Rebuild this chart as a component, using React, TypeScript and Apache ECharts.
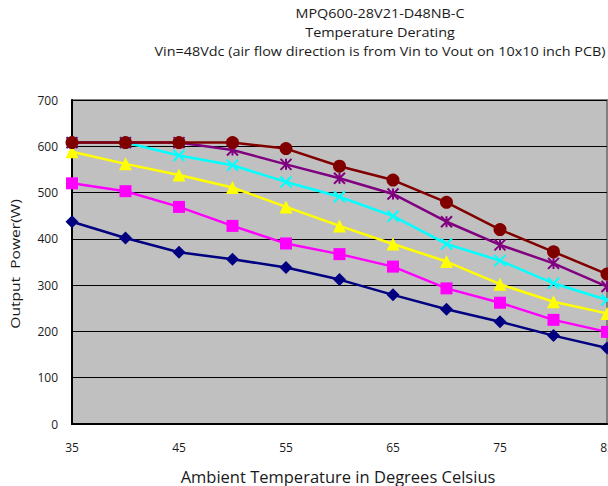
import React, { useEffect, useRef } from "react";
import * as echarts from "echarts";

const categories = ["35", "40", "45", "50", "55", "60", "65", "70", "75", "80", "85"];
const navyValues = [437, 402, 371, 356, 338, 312, 279, 248, 221, 191, 164];
const magentaValues = [520, 503, 469, 428, 390, 367, 340, 293, 262, 225, 199];
const yellowValues = [588, 562, 538, 511, 469, 428, 389, 351, 302, 264, 239];
const cyanValues = [608, 608, 580, 559, 523, 491, 449, 389, 353, 304, 268];
const purpleValues = [608, 608, 608, 592, 561, 531, 497, 437, 387, 347, 297];
const redValues = [608, 608, 608, 608, 595, 557, 527, 479, 420, 372, 324];
const titleLines = [
  "MPQ600-28V21-D48NB-C",
  "Temperature Derating",
  "Vin=48Vdc (air flow direction is from Vin to Vout on 10x10 inch PCB)",
];
const xAxisName = "Ambient Temperature in Degrees Celsius";
const yAxisName = "Output  Power(W)";

const FONT = "'Open Sans', 'Noto Sans', sans-serif";

export default function App() {
  const ref = useRef<HTMLDivElement>(null);
  useEffect(() => {
    document.body.style.margin = "0";
    if (!ref.current) return;
    const chart = echarts.init(ref.current, undefined, { renderer: "svg" });
    const mk = (name: string, data: number[], color: string, symbol: string, size: number, stroke = false) => ({
      name,
      type: "line",
      data,
      symbol,
      symbolSize: size,
      showSymbol: true,
      lineStyle: { color, width: 2.5 },
      itemStyle: stroke
        ? { color: "rgba(0,0,0,0)", borderColor: color, borderWidth: 2 }
        : { color, borderWidth: 0 },
      z: 2,
    });
    chart.setOption({
      animation: false,
      backgroundColor: "#ffffff",
      textStyle: { fontFamily: FONT },
      graphic: [
        ...titleLines.map((t, i) => ({
          type: "text",
          x: 380,
          y: 13 + i * 19,
          scaleX: 1.2,
          style: {
            text: t,
            fill: "#1a1a1a",
            font: `12px ${FONT}`,
            textAlign: "center",
            textVerticalAlign: "middle",
          },
        })),
        {
          type: "text",
          x: 338,
          y: 476,
          style: {
            text: xAxisName,
            fill: "#1a1a1a",
            font: `16.5px ${FONT}`,
            textAlign: "center",
            textVerticalAlign: "middle",
          },
        },
        {
          type: "text",
          x: 15,
          y: 264,
          rotation: Math.PI / 2,
          scaleX: 1.2,
          style: {
            text: yAxisName,
            fill: "#1a1a1a",
            font: `13px ${FONT}`,
            textAlign: "center",
            textVerticalAlign: "middle",
          },
        },
      ],
      grid: {
        left: 72,
        right: 1,
        top: 100,
        bottom: 62,
        outerBoundsMode: "none",
        containLabel: false,
        show: true,
        backgroundColor: "#C0C0C0",
        borderColor: "#808080",
        borderWidth: 2,
      },
      xAxis: {
        type: "category",
        data: categories,
        boundaryGap: false,
        axisLine: { show: true, lineStyle: { color: "#000", width: 2 } },
        axisTick: { show: false },
        axisLabel: {
          interval: 1,
          color: "#1a1a1a",
          fontSize: 12,
          fontFamily: FONT,
          margin: 17,
        },
        splitLine: { show: false },
      },
      yAxis: {
        type: "value",
        min: 0,
        max: 700,
        interval: 100,
        axisLine: { show: true, lineStyle: { color: "#000", width: 2 } },
        axisTick: { show: false },
        axisLabel: { color: "#1a1a1a", fontSize: 12, fontFamily: FONT, margin: 14 },
        splitLine: { show: true, lineStyle: { color: "#000", width: 1 } },
      },
      series: [
        mk("navy", navyValues, "#000080", "diamond", 13),
        mk("magenta", magentaValues, "#FF00FF", "rect", 12),
        mk("yellow", yellowValues, "#FFFF00", "triangle", 13),
        mk("cyan", cyanValues, "#00FFFF", "path://M0,0L10,10M10,0L0,10", 11, true),
        mk("purple", purpleValues, "#800080", "path://M0,0L10,10M10,0L0,10M5,0L5,10", 11, true),
        mk("red", redValues, "#800000", "circle", 13),
      ],
    });
    return () => chart.dispose();
  }, []);
  return <div ref={ref} style={{ width: 608, height: 486 }} />;
}
